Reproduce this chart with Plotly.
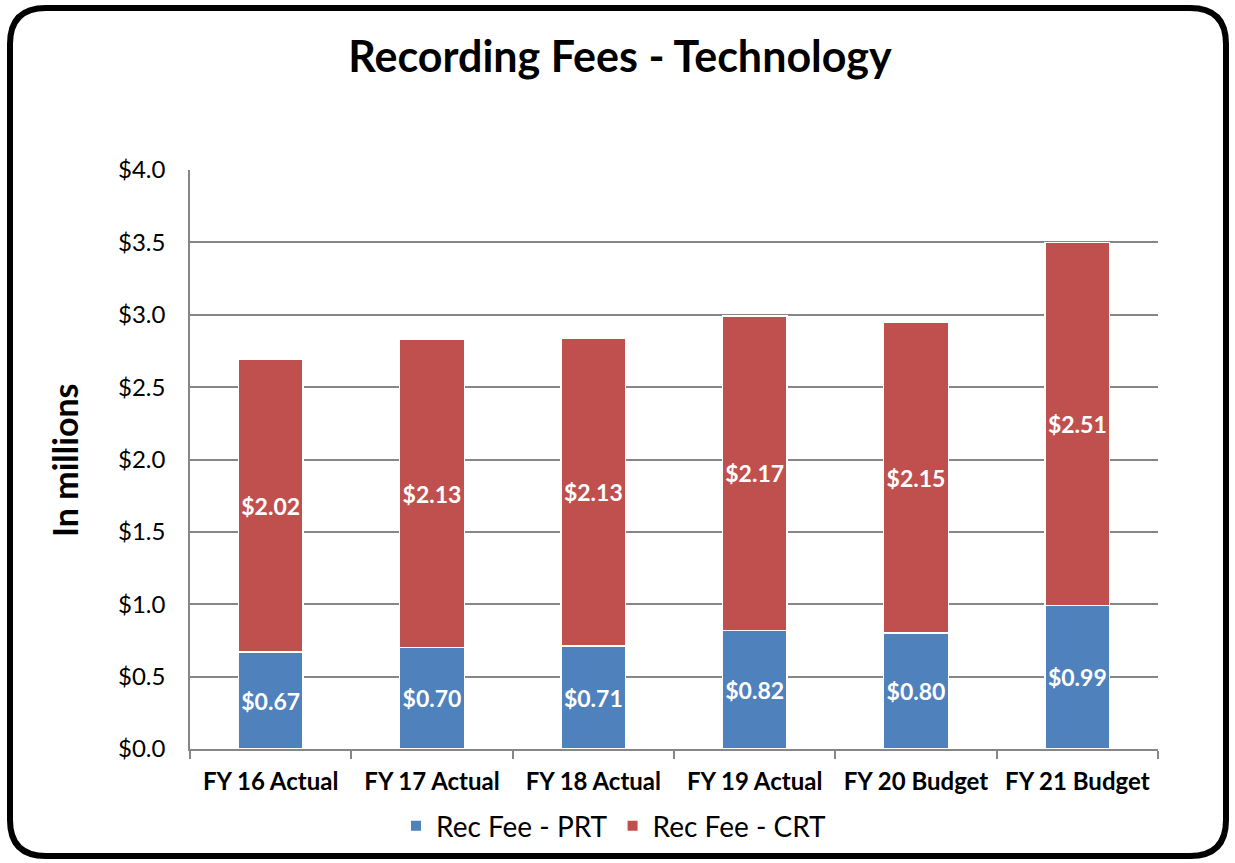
import plotly.graph_objects as go

categories = ["FY 16 Actual", "FY 17 Actual", "FY 18 Actual", "FY 19 Actual", "FY 20 Budget", "FY 21 Budget"]
prt_values = [0.67, 0.70, 0.71, 0.82, 0.80, 0.99]
crt_values = [2.02, 2.13, 2.13, 2.17, 2.15, 2.51]
series_names = ["Rec Fee - PRT", "Rec Fee - CRT"]
y_ticks = [0.0, 0.5, 1.0, 1.5, 2.0, 2.5, 3.0, 3.5, 4.0]

W, H = 1235, 863
L, R, T, B = 190, 77, 170, 114
PW, PH = W - L - R, H - T - B

def px(x):
    return (x - L) / PW

def py(y):
    return (H - B - y) / PH

FONT = "Lato"

fig = go.Figure()
for name, vals, color in [(series_names[0], prt_values, "#4F81BD"), (series_names[1], crt_values, "#C0504D")]:
    fig.add_trace(go.Bar(
        x=categories, y=vals, name=name,
        marker=dict(color=color, line=dict(color="white", width=1.5)),
        text=[f"${v:.2f}" for v in vals],
        textposition="inside", insidetextanchor="middle", textangle=0,
        textfont=dict(family=FONT, size=23, color="white", weight="bold"),
        constraintext="none", cliponaxis=False,
    ))

# rounded border
x0, x1, y0, y1, r = 10, 1226, 8, 856, 36
path = (f"M {px(x0+r)},{py(y0)} L {px(x1-r)},{py(y0)} Q {px(x1)},{py(y0)} {px(x1)},{py(y0+r)} "
        f"L {px(x1)},{py(y1-r)} Q {px(x1)},{py(y1)} {px(x1-r)},{py(y1)} "
        f"L {px(x0+r)},{py(y1)} Q {px(x0)},{py(y1)} {px(x0)},{py(y1-r)} "
        f"L {px(x0)},{py(y0+r)} Q {px(x0)},{py(y0)} {px(x0+r)},{py(y0)} Z")
fig.add_shape(type="path", path=path, xref="paper", yref="paper",
              line=dict(color="black", width=6), layer="above")

fig.add_annotation(text="In millions", x=px(65), y=py(460), xref="paper", yref="paper",
                   xanchor="center", yanchor="middle",
                   textangle=-90, showarrow=False,
                   font=dict(family=FONT, size=34, color="black", weight="bold"))

fig.update_layout(
    width=W, height=H,
    margin=dict(l=L, r=R, t=T, b=B),
    paper_bgcolor="white", plot_bgcolor="white",
    barmode="stack", bargap=0.6,
    title=dict(text="Recording Fees - Technology", x=620 / W, y=1 - 57 / H,
               xanchor="center", yanchor="middle",
               font=dict(family=FONT, size=43, color="black", weight="bold")),
    legend=dict(orientation="h", x=px(614), y=py(826), xanchor="center", yanchor="middle",
                font=dict(family=FONT, size=28, color="black"), itemsizing="constant",
                traceorder="normal"),
    xaxis=dict(showline=True, linecolor="#868686", linewidth=1.5,
               ticks="outside", tickson="boundaries", ticklen=8, tickcolor="#868686", tickwidth=1.5,
               ticklabelstandoff=10,
               tickfont=dict(family=FONT, size=24, color="black", weight="bold")),
    yaxis=dict(range=[0, 4.0], tickvals=y_ticks, tickformat="$.1f",
               showline=True, linecolor="#868686", linewidth=1.5,
               showgrid=True, gridcolor="#868686", gridwidth=1.5,
               ticks="", ticklen=0, zeroline=False, ticklabelstandoff=18,
               tickfont=dict(family=FONT, size=24, color="black")),
)

fig.write_html("out.html", config={"displayModeBar": False},
               post_script="document.body.style.margin='0';document.body.style.overflow='hidden';")
